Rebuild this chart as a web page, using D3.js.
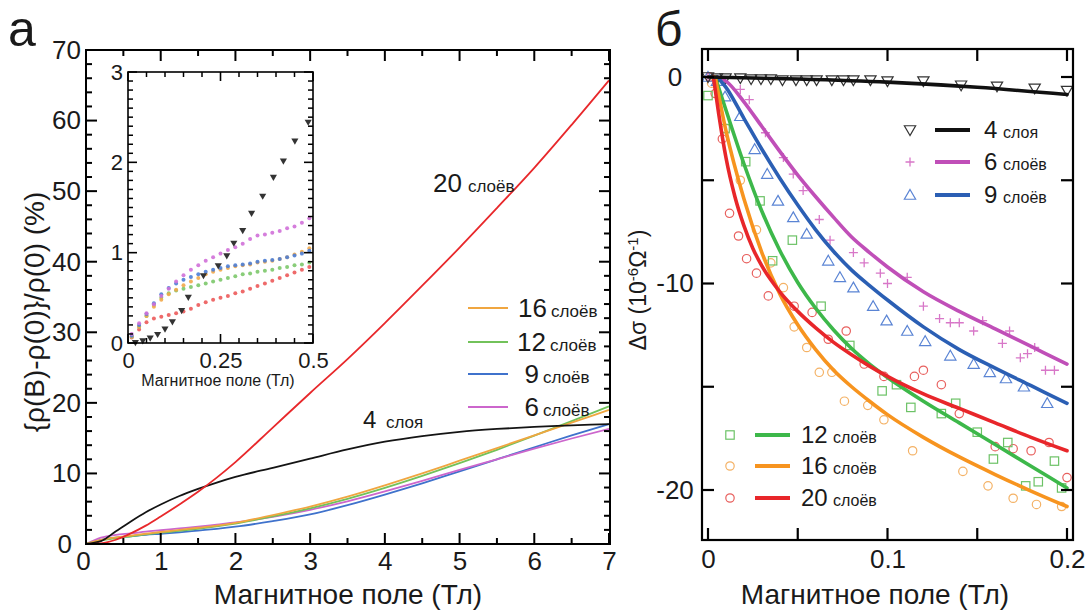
<!DOCTYPE html>
<html><head><meta charset="utf-8">
<script src="https://cdn.jsdelivr.net/npm/d3@7"></script>
<style>
body{margin:0;background:#fff}
svg{display:block}
text{font-family:"Liberation Sans",Arial,Helvetica,sans-serif;fill:#1a1a1a}
</style>
</head><body>
<svg id="c" width="1091" height="611"></svg>
<script>
// ---------------- DATA ----------------
// Panel a, main plot: field (T) and MR (%)
const mainField = [0,0.2,0.4,0.6,0.8,1,1.25,1.5,1.75,2,2.5,3,3.5,4,4.5,5,5.5,6,6.5,7];
const mr20 = [0,0.1,0.6,1.5,2.6,3.9,5.6,7.4,9.4,11.6,16.5,21.4,26.2,31.3,36.6,42.0,47.6,53.3,59.4,65.7];
const mr4  = [0,0.4,1.8,3.2,4.5,5.6,6.8,7.8,8.7,9.5,10.8,12.1,13.4,14.5,15.3,15.9,16.3,16.6,16.8,17.0];
const mr16 = [0,0.6,0.95,1.2,1.45,1.7,2.0,2.3,2.6,3.0,4.1,5.3,6.7,8.3,10.0,11.8,13.6,15.4,17.2,19.0];
const mr12 = [0,0.5,0.85,1.1,1.35,1.6,1.85,2.15,2.5,2.9,3.9,5.05,6.4,7.95,9.65,11.45,13.35,15.35,17.4,19.5];
const mr9  = [0,0.6,0.9,1.1,1.3,1.45,1.65,1.9,2.15,2.45,3.25,4.2,5.5,7.0,8.6,10.3,12.0,13.7,15.4,17.0];
const mr6  = [0,0.9,1.3,1.5,1.75,1.95,2.2,2.45,2.75,3.05,3.85,4.85,6.05,7.45,8.95,10.5,12.0,13.5,14.95,16.3];

// Panel a, inset: low-field MR (%)
const insetField = [0.01,0.03,0.05,0.07,0.09,0.11,0.13,0.15,0.17,0.19,0.21,0.23,0.25,0.27,0.29,0.31,0.33,0.35,0.37,0.39,0.41,0.43,0.45,0.47,0.49];
const in6  = [0.1,0.22,0.33,0.43,0.52,0.6,0.68,0.75,0.81,0.86,0.91,0.95,0.99,1.03,1.06,1.1,1.15,1.19,1.2,1.22,1.24,1.27,1.29,1.33,1.38];
const in9  = [0.08,0.2,0.32,0.44,0.54,0.61,0.66,0.7,0.73,0.76,0.79,0.81,0.83,0.85,0.86,0.87,0.88,0.9,0.91,0.92,0.93,0.95,0.97,0.99,1.02];
const in16 = [0.07,0.18,0.3,0.4,0.48,0.54,0.59,0.64,0.68,0.72,0.76,0.79,0.81,0.83,0.85,0.86,0.87,0.89,0.9,0.91,0.93,0.95,0.98,1.01,1.05];
const in12 = [0.07,0.18,0.3,0.42,0.5,0.55,0.58,0.6,0.62,0.64,0.66,0.68,0.7,0.72,0.74,0.76,0.77,0.79,0.8,0.81,0.83,0.84,0.86,0.87,0.89];
const in20 = [0.06,0.15,0.23,0.27,0.29,0.31,0.33,0.35,0.38,0.42,0.45,0.48,0.5,0.52,0.55,0.57,0.6,0.63,0.66,0.69,0.72,0.75,0.78,0.81,0.84];
const in4Field = [0.02,0.04,0.06,0.08,0.1,0.12,0.145,0.163,0.204,0.244,0.267,0.286,0.31,0.334,0.364,0.393,0.42,0.451,0.487];
const in4      = [0.01,0.03,0.06,0.1,0.16,0.24,0.365,0.51,0.75,0.86,0.97,1.11,1.25,1.44,1.63,1.84,2.02,2.24,2.45];

// Panel б: fitted curves Δσ (10^-6 Ω^-1)
const fit4F  = [0,0.05,0.1,0.15,0.2];
const fit4V  = [0,-0.1,-0.25,-0.5,-0.85];
const fit6F  = [0.005,0.01,0.02,0.03,0.04,0.05,0.06,0.07,0.08,0.09,0.1,0.12,0.14,0.16,0.18,0.2];
const fit6V  = [0,-0.2,-1.2,-2.4,-3.6,-4.75,-5.8,-6.8,-7.75,-8.5,-9.2,-10.4,-11.35,-12.2,-13.05,-13.9];
const fit9F  = [0.005,0.01,0.02,0.03,0.04,0.05,0.06,0.07,0.08,0.09,0.1,0.12,0.14,0.16,0.18,0.2];
const fit9V  = [0,-0.5,-2.0,-3.5,-4.9,-6.2,-7.4,-8.45,-9.35,-10.1,-10.8,-12.1,-13.2,-14.1,-14.95,-15.8];
const fit12F = [0.004,0.01,0.02,0.03,0.04,0.05,0.06,0.07,0.08,0.09,0.1,0.12,0.14,0.16,0.18,0.2];
const fit12V = [0,-1.6,-4.2,-6.5,-8.4,-9.95,-11.2,-12.25,-13.15,-13.9,-14.55,-15.7,-16.75,-17.8,-18.85,-19.9];
const fit16F = [0.004,0.01,0.02,0.03,0.04,0.05,0.06,0.07,0.08,0.09,0.1,0.12,0.14,0.16,0.18,0.2];
const fit16V = [0,-2.6,-5.9,-8.5,-10.5,-12.0,-13.2,-14.2,-15.0,-15.7,-16.35,-17.45,-18.4,-19.25,-20.05,-20.8];
const fit20F = [0.003,0.006,0.01,0.015,0.02,0.025,0.03,0.04,0.05,0.06,0.07,0.08,0.09,0.1,0.12,0.14,0.16,0.18,0.2];
const fit20V = [0,-1.8,-3.9,-5.8,-7.2,-8.3,-9.15,-10.4,-11.35,-12.15,-12.85,-13.45,-14.0,-14.5,-15.35,-16.05,-16.75,-17.45,-18.1];

// Panel б: measured points
const pt4F  = [0,0.005,0.0098,0.018,0.024,0.0295,0.035,0.0415,0.049,0.055,0.0605,0.069,0.0755,0.081,0.0905,0.1,0.12,0.141,0.161,0.182,0.2];
const pt4V  = [0,-0.05,-0.05,-0.05,-0.1,-0.1,-0.1,-0.15,-0.15,-0.15,-0.15,-0.15,-0.15,-0.15,-0.15,-0.2,-0.2,-0.4,-0.45,-0.55,-0.66];
const pt6F  = [0,0.005,0.018,0.023,0.032,0.042,0.0475,0.053,0.062,0.068,0.081,0.087,0.096,0.1,0.111,0.12,0.129,0.135,0.14,0.148,0.153,0.164,0.168,0.174,0.178,0.182,0.188,0.193];
const pt6V  = [0,-0.2,-0.6,-1.1,-2.7,-3.9,-4.7,-5.5,-6.9,-7.9,-8.5,-9.0,-9.5,-10.0,-9.7,-11.1,-11.7,-11.9,-11.9,-12.3,-11.8,-12.9,-12.3,-13.6,-13.4,-13.1,-14.2,-14.2];
const pt9F  = [0,0.005,0.0095,0.018,0.026,0.033,0.039,0.0475,0.055,0.067,0.0735,0.081,0.092,0.0995,0.111,0.121,0.135,0.148,0.157,0.166,0.176,0.189];
const pt9V  = [0,-0.2,-0.95,-1.9,-3.5,-4.7,-6.0,-6.8,-7.6,-8.9,-9.7,-10.2,-11.1,-11.8,-12.3,-12.8,-13.5,-13.9,-14.3,-14.6,-15.0,-15.8];
const pt12F = [0,0.0095,0.021,0.029,0.036,0.047,0.063,0.079,0.097,0.105,0.113,0.13,0.138,0.15,0.159,0.167,0.177,0.184,0.193,0.197];
const pt12V = [-0.9,-2.5,-4.1,-6.0,-8.9,-7.9,-11.1,-13.0,-15.2,-14.9,-16.0,-16.3,-15.8,-17.2,-18.5,-17.7,-19.8,-19.6,-18.6,-19.9];
const pt16F = [0.002,0.01,0.018,0.027,0.035,0.042,0.048,0.055,0.062,0.069,0.076,0.089,0.098,0.114,0.142,0.156,0.17,0.183,0.197];
const pt16V = [-0.3,-2.5,-5.0,-7.4,-9.0,-10.2,-12.1,-13.1,-14.3,-14.3,-15.7,-15.9,-16.6,-18.1,-19.1,-19.8,-20.4,-20.7,-20.8];
const pt20F = [0.001,0.004,0.008,0.012,0.017,0.0215,0.027,0.0336,0.048,0.058,0.067,0.077,0.087,0.098,0.115,0.12,0.13,0.14,0.16,0.17,0.18,0.19,0.2];
const pt20V = [0,-0.8,-3.0,-6.6,-7.7,-8.8,-9.5,-10.6,-11.1,-11.4,-12.7,-12.3,-13.9,-14.5,-14.5,-14.2,-14.9,-16.3,-17.9,-18.0,-18.1,-17.7,-19.4];

// tick values and labels
const mainXTicks = [0,1,2,3,4,5,6,7];
const mainYTicks = [0,10,20,30,40,50,60,70];
const mainXMinor = [0.5,1.5,2.5,3.5,4.5,5.5,6.5];
const mainYMinor = [2,4,6,8,12,14,16,18,22,24,26,28,32,34,36,38,42,44,46,48,52,54,56,58,62,64,66,68];
const insetXTicks = [0,0.25,0.5];
const insetYTicks = [0,1,2,3];
const insetXMinor = [0.05,0.1,0.15,0.2,0.3,0.35,0.4,0.45];
const insetYMinor = [0.1,0.2,0.3,0.4,0.5,0.6,0.7,0.8,0.9,1.1,1.2,1.3,1.4,1.5,1.6,1.7,1.8,1.9,2.1,2.2,2.3,2.4,2.5,2.6,2.7,2.8,2.9];
const rightXTicks = [0,0.05,0.1,0.15,0.2];
const rightXLabels = ["0","","0.1","","0.2"];
const rightYTicks = [0,-5,-10,-15,-20];
const rightYLabels = ["0","","-10","","-20"];

// legend labels
const legendA = [["16","слоёв"],["12","слоёв"],["9","слоёв"],["6","слоёв"]];
const legendBTop = [["4","слоя"],["6","слоёв"],["9","слоёв"]];
const legendBBot = [["12","слоёв"],["16","слоёв"],["20","слоёв"]];
const xTitle = "Магнитное поле (Тл)";

// ---------------- DRAW ----------------
const svg = d3.select("#c");
const FONT = '"Liberation Sans",Arial,Helvetica,sans-serif';

function zip(f, v){ return f.map((x,i)=>[x, v[i]]); }

function drawTicks(x, y, fr, xv, yv, len, tw){
  xv.forEach(v=>{
    svg.append("line").attr("x1",x(v)).attr("x2",x(v)).attr("y1",fr.y1).attr("y2",fr.y1-len).attr("stroke","#000").attr("stroke-width",tw);
    svg.append("line").attr("x1",x(v)).attr("x2",x(v)).attr("y1",fr.y0).attr("y2",fr.y0+len).attr("stroke","#000").attr("stroke-width",tw);
  });
  yv.forEach(v=>{
    svg.append("line").attr("x1",fr.x0).attr("x2",fr.x0+len).attr("y1",y(v)).attr("y2",y(v)).attr("stroke","#000").attr("stroke-width",tw);
    svg.append("line").attr("x1",fr.x1).attr("x2",fr.x1-len).attr("y1",y(v)).attr("y2",y(v)).attr("stroke","#000").attr("stroke-width",tw);
  });
}
function drawFrame(fr, w){
  svg.append("rect").attr("x",fr.x0).attr("y",fr.y0).attr("width",fr.x1-fr.x0).attr("height",fr.y1-fr.y0)
    .attr("fill","none").attr("stroke","#000").attr("stroke-width",w);
}
function tickLabels(x, y, fr, xv, yv, xfmt, yfmt, xpad, ypad, fs){
  const ax = svg.append("g").attr("transform",`translate(0,${fr.y1})`)
    .call(d3.axisBottom(x).tickValues(xv).tickSize(0).tickPadding(xpad).tickFormat(xfmt));
  const ay = svg.append("g").attr("transform",`translate(${fr.x0},0)`)
    .call(d3.axisLeft(y).tickValues(yv).tickSize(0).tickPadding(ypad).tickFormat(yfmt));
  [ax,ay].forEach(a=>{
    a.select(".domain").remove();
    a.selectAll(".tick line").remove();
    a.selectAll("text").attr("font-size",fs).attr("font-family",FONT).attr("fill","#1a1a1a");
  });
  return {ax, ay};
}

// ===== Panel a =====
const xA = d3.scaleLinear([0,7],[86,609]);
const yA = d3.scaleLinear([0,70],[544,50]);
const frA = {x0:86, x1:610, y0:50, y1:544};
const colA = {c16:"#f0a640", c12:"#72c25a", c9:"#3f72cc", c6:"#cc66cc", c20:"#e8282b", c4:"#141414"};
const lineA = d3.line().x(d=>xA(d[0])).y(d=>yA(d[1])).curve(d3.curveMonotoneX);
[[mr9,colA.c9],[mr6,colA.c6],[mr12,colA.c12],[mr16,colA.c16],[mr4,colA.c4],[mr20,colA.c20]].forEach(([v,c])=>{
  svg.append("path").attr("d", lineA(zip(mainField,v))).attr("fill","none").attr("stroke",c).attr("stroke-width",1.8);
});
drawTicks(xA, yA, frA, mainXMinor, mainYMinor, 6, 2);
drawTicks(xA, yA, frA, mainXTicks, mainYTicks, 11, 2);
drawFrame(frA, 2);

// inset
const xI = d3.scaleLinear([0,0.5],[128,313]);
const yI = d3.scaleLinear([0,3],[343,72]);
const frI = {x0:128, x1:313, y0:72, y1:343};
svg.append("rect").attr("x",frI.x0).attr("y",frI.y0).attr("width",frI.x1-frI.x0).attr("height",frI.y1-frI.y0).attr("fill","#fff");
const inSeries = [[in20,"#ec5a5a"],[in12,"#7cc86a"],[in16,"#f2a84a"],[in9,"#4d7ed6"],[in6,"#d070d8"]];
inSeries.forEach(([v,c])=>{
  svg.append("g").selectAll("circle").data(zip(insetField,v)).join("circle")
    .attr("cx",d=>xI(d[0])).attr("cy",d=>yI(d[1])).attr("r",2).attr("fill",c).attr("opacity",0.9);
});
const triSym = d3.symbol().type(d3.symbolTriangle).size(22);
svg.append("g").selectAll("path").data(zip(in4Field,in4)).join("path")
  .attr("d",triSym()).attr("transform",d=>`translate(${xI(d[0])},${yI(d[1])}) rotate(180)`).attr("fill","#333");
drawTicks(xI, yI, frI, insetXMinor, insetYMinor, 5, 1.5);
drawTicks(xI, yI, frI, insetXTicks, insetYTicks, 9, 1.6);
drawFrame(frI, 1.6);
tickLabels(xI, yI, frI, insetXTicks, insetYTicks, d=>String(d), d=>String(d), 9, 5, 22);
svg.append("text").attr("x",218).attr("y",386).attr("text-anchor","middle").attr("font-size",16).text(xTitle);

const labA = tickLabels(xA, yA, frA, mainXTicks, mainYTicks, d=>String(d), d=>String(d), 8, 5, 26);
labA.ay.selectAll(".tick").filter(d=>d===0).select("text").attr("x",-14);
labA.ax.selectAll(".tick").filter(d=>d===0).select("text").attr("x",-3);

// labels on curves
svg.append("text").attr("x",433).attr("y",192).attr("font-size",26).text("20");
svg.append("text").attr("x",468).attr("y",192).attr("font-size",17).text("слоёв");
svg.append("text").attr("x",363).attr("y",428).attr("font-size",24).text("4");
svg.append("text").attr("x",386).attr("y",428).attr("font-size",17).text("слоя");

// legend a
const legAcol = [colA.c16, colA.c12, colA.c9, colA.c6];
const legAy = [308,342,374,407];
const legAnumEnd = [547,546,539,539];
legendA.forEach((l,i)=>{
  svg.append("line").attr("x1",468).attr("x2",508).attr("y1",legAy[i]).attr("y2",legAy[i])
    .attr("stroke",legAcol[i]).attr("stroke-width",2);
  svg.append("text").attr("x",legAnumEnd[i]).attr("y",legAy[i]+9).attr("text-anchor","end").attr("font-size",26).text(l[0]);
  svg.append("text").attr("x",legAnumEnd[i]+4).attr("y",legAy[i]+9).attr("font-size",17).text(l[1]);
});

svg.append("text").attr("x",348).attr("y",604).attr("text-anchor","middle").attr("font-size",28).text(xTitle);
svg.append("text").attr("transform","translate(44,312) rotate(-90)").attr("text-anchor","middle")
  .attr("font-size",28).text("{ρ(B)-ρ(0)}/ρ(0) (%)");
svg.append("text").attr("x",8).attr("y",46).attr("font-size",50).text("а");

// ===== Panel б =====
const xB = d3.scaleLinear([0,0.2],[708,1067]);
const yB = d3.scaleLinear([-20,0],[490,77]);
const frB = {x0:702, x1:1073, y0:49, y1:540};
const colB = {c4:"#111111", c6:"#c04fb8", c9:"#2b5fb4", c12:"#3db84a", c16:"#f7941f", c20:"#e8262a"};
const mkB = {c4:"#333333", c6:"#d877c8", c9:"#5a84d4", c12:"#6cc266", c16:"#f4b266", c20:"#e8605e"};

function marker(type, cx, cy, c){
  if (type==="circle") svg.append("circle").attr("cx",cx).attr("cy",cy).attr("r",4.2).attr("fill","none").attr("stroke",c).attr("stroke-width",1.2);
  else if (type==="square") svg.append("rect").attr("x",cx-4.2).attr("y",cy-4.2).attr("width",8.4).attr("height",8.4).attr("fill","none").attr("stroke",c).attr("stroke-width",1.2);
  else if (type==="plus") svg.append("path").attr("d",`M${cx-4.5},${cy}H${cx+4.5}M${cx},${cy-4.5}V${cy+4.5}`).attr("fill","none").attr("stroke",c).attr("stroke-width",1.3);
  else if (type==="tri") svg.append("path").attr("d",d3.symbol().type(d3.symbolTriangle).size(55)()).attr("transform",`translate(${cx},${cy+1})`).attr("fill","none").attr("stroke",c).attr("stroke-width",1.2);
  else if (type==="triDown") svg.append("path").attr("d",d3.symbol().type(d3.symbolTriangle).size(55)()).attr("transform",`translate(${cx},${cy-1}) rotate(180)`).attr("fill","none").attr("stroke",c).attr("stroke-width",1.2);
}
const ptsGroups = [
  [pt20F,pt20V,"circle",mkB.c20],[pt16F,pt16V,"circle",mkB.c16],[pt12F,pt12V,"square",mkB.c12],
  [pt9F,pt9V,"tri",mkB.c9],[pt6F,pt6V,"plus",mkB.c6],[pt4F,pt4V,"triDown",mkB.c4]
];
ptsGroups.forEach(([f,v,t,c])=>{
  zip(f,v).forEach(d=>marker(t,xB(d[0]),yB(d[1]),c));
});
const lineB = d3.line().x(d=>xB(d[0])).y(d=>yB(d[1])).curve(d3.curveMonotoneX);
[[fit6F,fit6V,colB.c6],[fit9F,fit9V,colB.c9],[fit12F,fit12V,colB.c12],[fit16F,fit16V,colB.c16],[fit20F,fit20V,colB.c20],[fit4F,fit4V,colB.c4]]
.forEach(([f,v,c])=>{
  svg.append("path").attr("d",lineB(zip(f,v))).attr("fill","none").attr("stroke",c).attr("stroke-width",3.6).attr("stroke-linecap","round");
});
drawTicks(xB, yB, frB, rightXTicks, rightYTicks, 12, 2.2);
drawFrame(frB, 2.2);
const labB = tickLabels(xB, yB, frB, rightXTicks, rightYTicks,
  d=>rightXLabels[rightXTicks.indexOf(d)], d=>rightYLabels[rightYTicks.indexOf(d)], 10, 9, 26);
labB.ay.selectAll("text").attr("text-anchor","middle").attr("x",-27);

// legends б
const legTopY = [130,162,195];
const legTopCol = [colB.c4,colB.c6,colB.c9];
const legTopMk = [["triDown",mkB.c4],["plus",mkB.c6],["tri",mkB.c9]];
legendBTop.forEach((l,i)=>{
  marker(legTopMk[i][0], 910, legTopY[i], legTopMk[i][1]);
  svg.append("line").attr("x1",935).attr("x2",970).attr("y1",legTopY[i]).attr("y2",legTopY[i]).attr("stroke",legTopCol[i]).attr("stroke-width",4);
  svg.append("text").attr("x",984).attr("y",legTopY[i]+8).attr("font-size",24).text(l[0]);
  svg.append("text").attr("x",1003).attr("y",legTopY[i]+8).attr("font-size",16).text(l[1]);
});
const legBotY = [435,466,498];
const legBotCol = [colB.c12,colB.c16,colB.c20];
const legBotMk = [["square",mkB.c12],["circle",mkB.c16],["circle",mkB.c20]];
legendBBot.forEach((l,i)=>{
  marker(legBotMk[i][0], 730, legBotY[i], legBotMk[i][1]);
  svg.append("line").attr("x1",755).attr("x2",790).attr("y1",legBotY[i]).attr("y2",legBotY[i]).attr("stroke",legBotCol[i]).attr("stroke-width",4);
  svg.append("text").attr("x",801).attr("y",legBotY[i]+8).attr("font-size",24).text(l[0]);
  svg.append("text").attr("x",833).attr("y",legBotY[i]+8).attr("font-size",16).text(l[1]);
});

svg.append("text").attr("x",875).attr("y",604).attr("text-anchor","middle").attr("font-size",28).text(xTitle);
const yt = svg.append("text").attr("transform","translate(646,290) rotate(-90)").attr("text-anchor","middle").attr("font-size",23);
yt.append("tspan").text("Δσ (10");
yt.append("tspan").attr("dy",-8).attr("font-size",15).text("-6");
yt.append("tspan").attr("dy",8).text("Ω");
yt.append("tspan").attr("dy",-8).attr("font-size",15).text("-1");
yt.append("tspan").attr("dy",8).text(")");
svg.append("text").attr("x",655).attr("y",46).attr("font-size",48).text("б");
</script>
</body></html>
